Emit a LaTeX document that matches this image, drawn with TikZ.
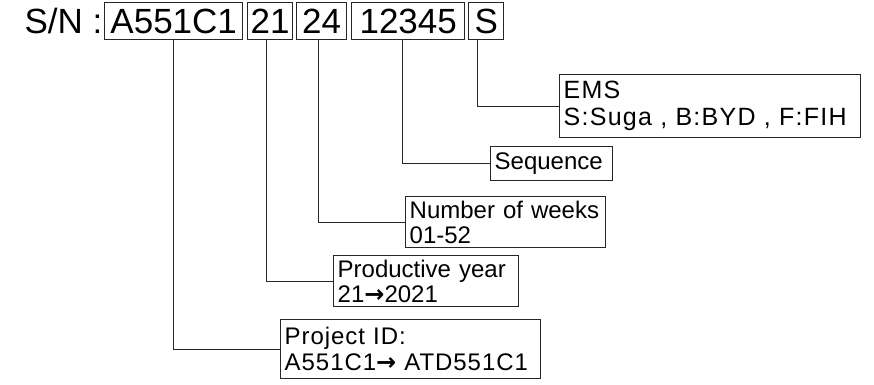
\documentclass[tikz,border=0pt]{standalone}
\usepackage{fontspec}
\setmainfont{Liberation Sans}
\newfontfamily\arrowfont{DejaVu Sans}
\newcommand{\toarrow}{{\arrowfont\bfseries →}}
\begin{document}
\begin{tikzpicture}[x=1pt,y=-1pt]

    \tikzstyle{code}=[draw=black!85, line width=1.4pt, inner sep=0pt, anchor=north west,
                      minimum height=37pt, font=\fontsize{35}{35}\selectfont]
    \tikzstyle{info}=[draw=black!85, line width=1.4pt, inner xsep=4pt, inner ysep=0pt,
                      anchor=north west, align=left, font=\fontsize{24}{25}\selectfont]
    \tikzstyle{link}=[draw=black!85, line width=1.4pt]

    \useasboundingbox (0,0) rectangle (874,384);

    % serial number fields
    \node[code, minimum width=138pt] (pid)  at (104,2) {A551C1};
    \node[code, minimum width=45pt]  (yr)   at (247,2) {21};
    \node[code, minimum width=50pt]  (wk)   at (296,2) {24};
    \node[code, minimum width=113pt] (seqn) at (351,2) {12345};
    \node[code, minimum width=35pt]  (ems)  at (468,2) {S};
    \node[anchor=base east, inner sep=0pt, font=\fontsize{35}{35}\selectfont]
        (sn) at ([xshift=-1.5pt]pid.base west) {S/N :};

    % explanations
    \node[info, text width=293pt, minimum height=63pt,
          font={\fontsize{25}{27}\selectfont\addfontfeature{LetterSpace=5}}]
        (emsbox) at (559,74) {EMS\\S:Suga , B:BYD , F:FIH};
    \node[info, text width=114pt, minimum height=34pt] (seqbox)  at (490,146) {Sequence};
    \node[info, text width=192pt, minimum height=51pt] (wkbox)   at (405,196) {Number of weeks\\01-52};
    \node[info, text width=177pt, minimum height=51pt] (yrbox)   at (333,255) {Productive year\\21\toarrow2021};
    \node[info, text width=252pt, minimum height=59pt,
          font={\fontsize{24}{26}\selectfont\addfontfeature{LetterSpace=4}}]
        (pidbox) at (280,319) {Project ID:\\A551C1\toarrow\ ATD551C1};

    \draw[link] (pid.south)                  |- (pidbox.west);
    \draw[link] ([xshift=-3.5pt]yr.south)    |- (yrbox.west);
    \draw[link] ([xshift=-3pt]wk.south)      |- (wkbox.west);
    \draw[link] ([xshift=-5.5pt]seqn.south)  |- (seqbox.west);
    \draw[link] ([xshift=-8.5pt]ems.south)   |- (emsbox.west);
\end{tikzpicture}
\end{document}
